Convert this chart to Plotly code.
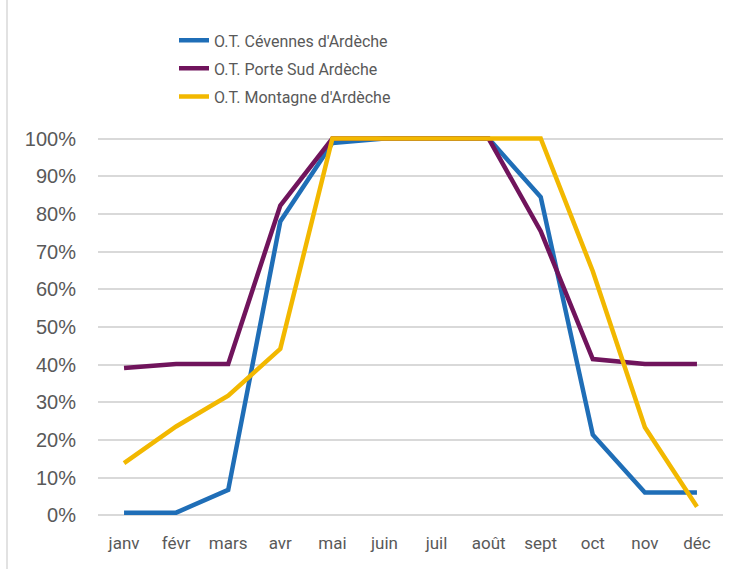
import plotly.graph_objects as go

months = ["janv", "févr", "mars", "avr", "mai", "juin", "juil", "août", "sept", "oct", "nov", "déc"]
cevennes = [0.0075, 0.0075, 0.068, 0.78, 0.988, 1.0, 1.0, 1.0, 0.845, 0.214, 0.061, 0.061]
porte_sud = [0.391, 0.402, 0.402, 0.822, 1.0, 1.0, 1.0, 1.0, 0.754, 0.415, 0.402, 0.402]
montagne = [0.139, 0.236, 0.318, 0.442, 1.0, 1.0, 1.0, 1.0, 1.0, 0.648, 0.234, 0.023]

names = ["O.T. Cévennes d'Ardèche", "O.T. Porte Sud Ardèche", "O.T. Montagne d'Ardèche"]
colors = ["#1f6eb7", "#70145c", "#f2b800"]
series = [cevennes, porte_sud, montagne]
legends = ["legend", "legend2", "legend3"]

W, H = 733, 569
L, R = 98, 723
y0px, y1px = 515.5, 139.0
pad = 0.02
per = (y0px - y1px)
top_px = y1px - pad * per
bot_px = y0px + pad * per
ph = bot_px - top_px

def py(p):
    return (bot_px - p) / ph

def px(p):
    return (p - L) / (R - L)

fig = go.Figure()
for n, c, s, lg in zip(names, colors, series, legends):
    fig.add_trace(go.Scatter(x=months, y=s, mode="lines", name=n, showlegend=True,
                             line=dict(color=c, width=4.5), legend=lg))

legfont = dict(family="Roboto, sans-serif", size=16, color="#595959")
leg_common = dict(xanchor="left", yanchor="middle", font=legfont,
                  bgcolor="rgba(0,0,0,0)", itemwidth=30)
fig.update_layout(
    width=W, height=H, showlegend=True,
    margin=dict(l=L, r=W - R, t=top_px, b=H - bot_px, autoexpand=False),
    paper_bgcolor="white", plot_bgcolor="white",
    legend=dict(x=px(174), y=py(41), **leg_common),
    legend2=dict(x=px(174), y=py(69), **leg_common),
    legend3=dict(x=px(174), y=py(97), **leg_common),
    xaxis=dict(type="category", range=[-0.5, 11.5], showgrid=False, zeroline=False,
               showline=False, ticks="", ticklabelstandoff=8,
               tickfont=dict(family="Roboto, sans-serif", size=17, color="#595959")),
    yaxis=dict(range=[-pad, 1 + pad], tickvals=[i / 10 for i in range(11)],
               tickformat=".0%", showgrid=True, gridcolor="#d9d9d9", gridwidth=1.5,
               zeroline=False, showline=False, ticks="", ticklabelstandoff=21,
               tickfont=dict(family="Liberation Sans, Arial, sans-serif", size=20, color="#595959")),
    shapes=[dict(type="line", xref="paper", yref="paper", x0=px(7), x1=px(7),
                 y0=py(0), y1=py(H), line=dict(color="#d9d9d9", width=1.5), layer="below")],
)

fig.write_html("out.html", config={"displayModeBar": False},
               post_script="document.body.style.margin='0';document.body.style.overflow='hidden';")
